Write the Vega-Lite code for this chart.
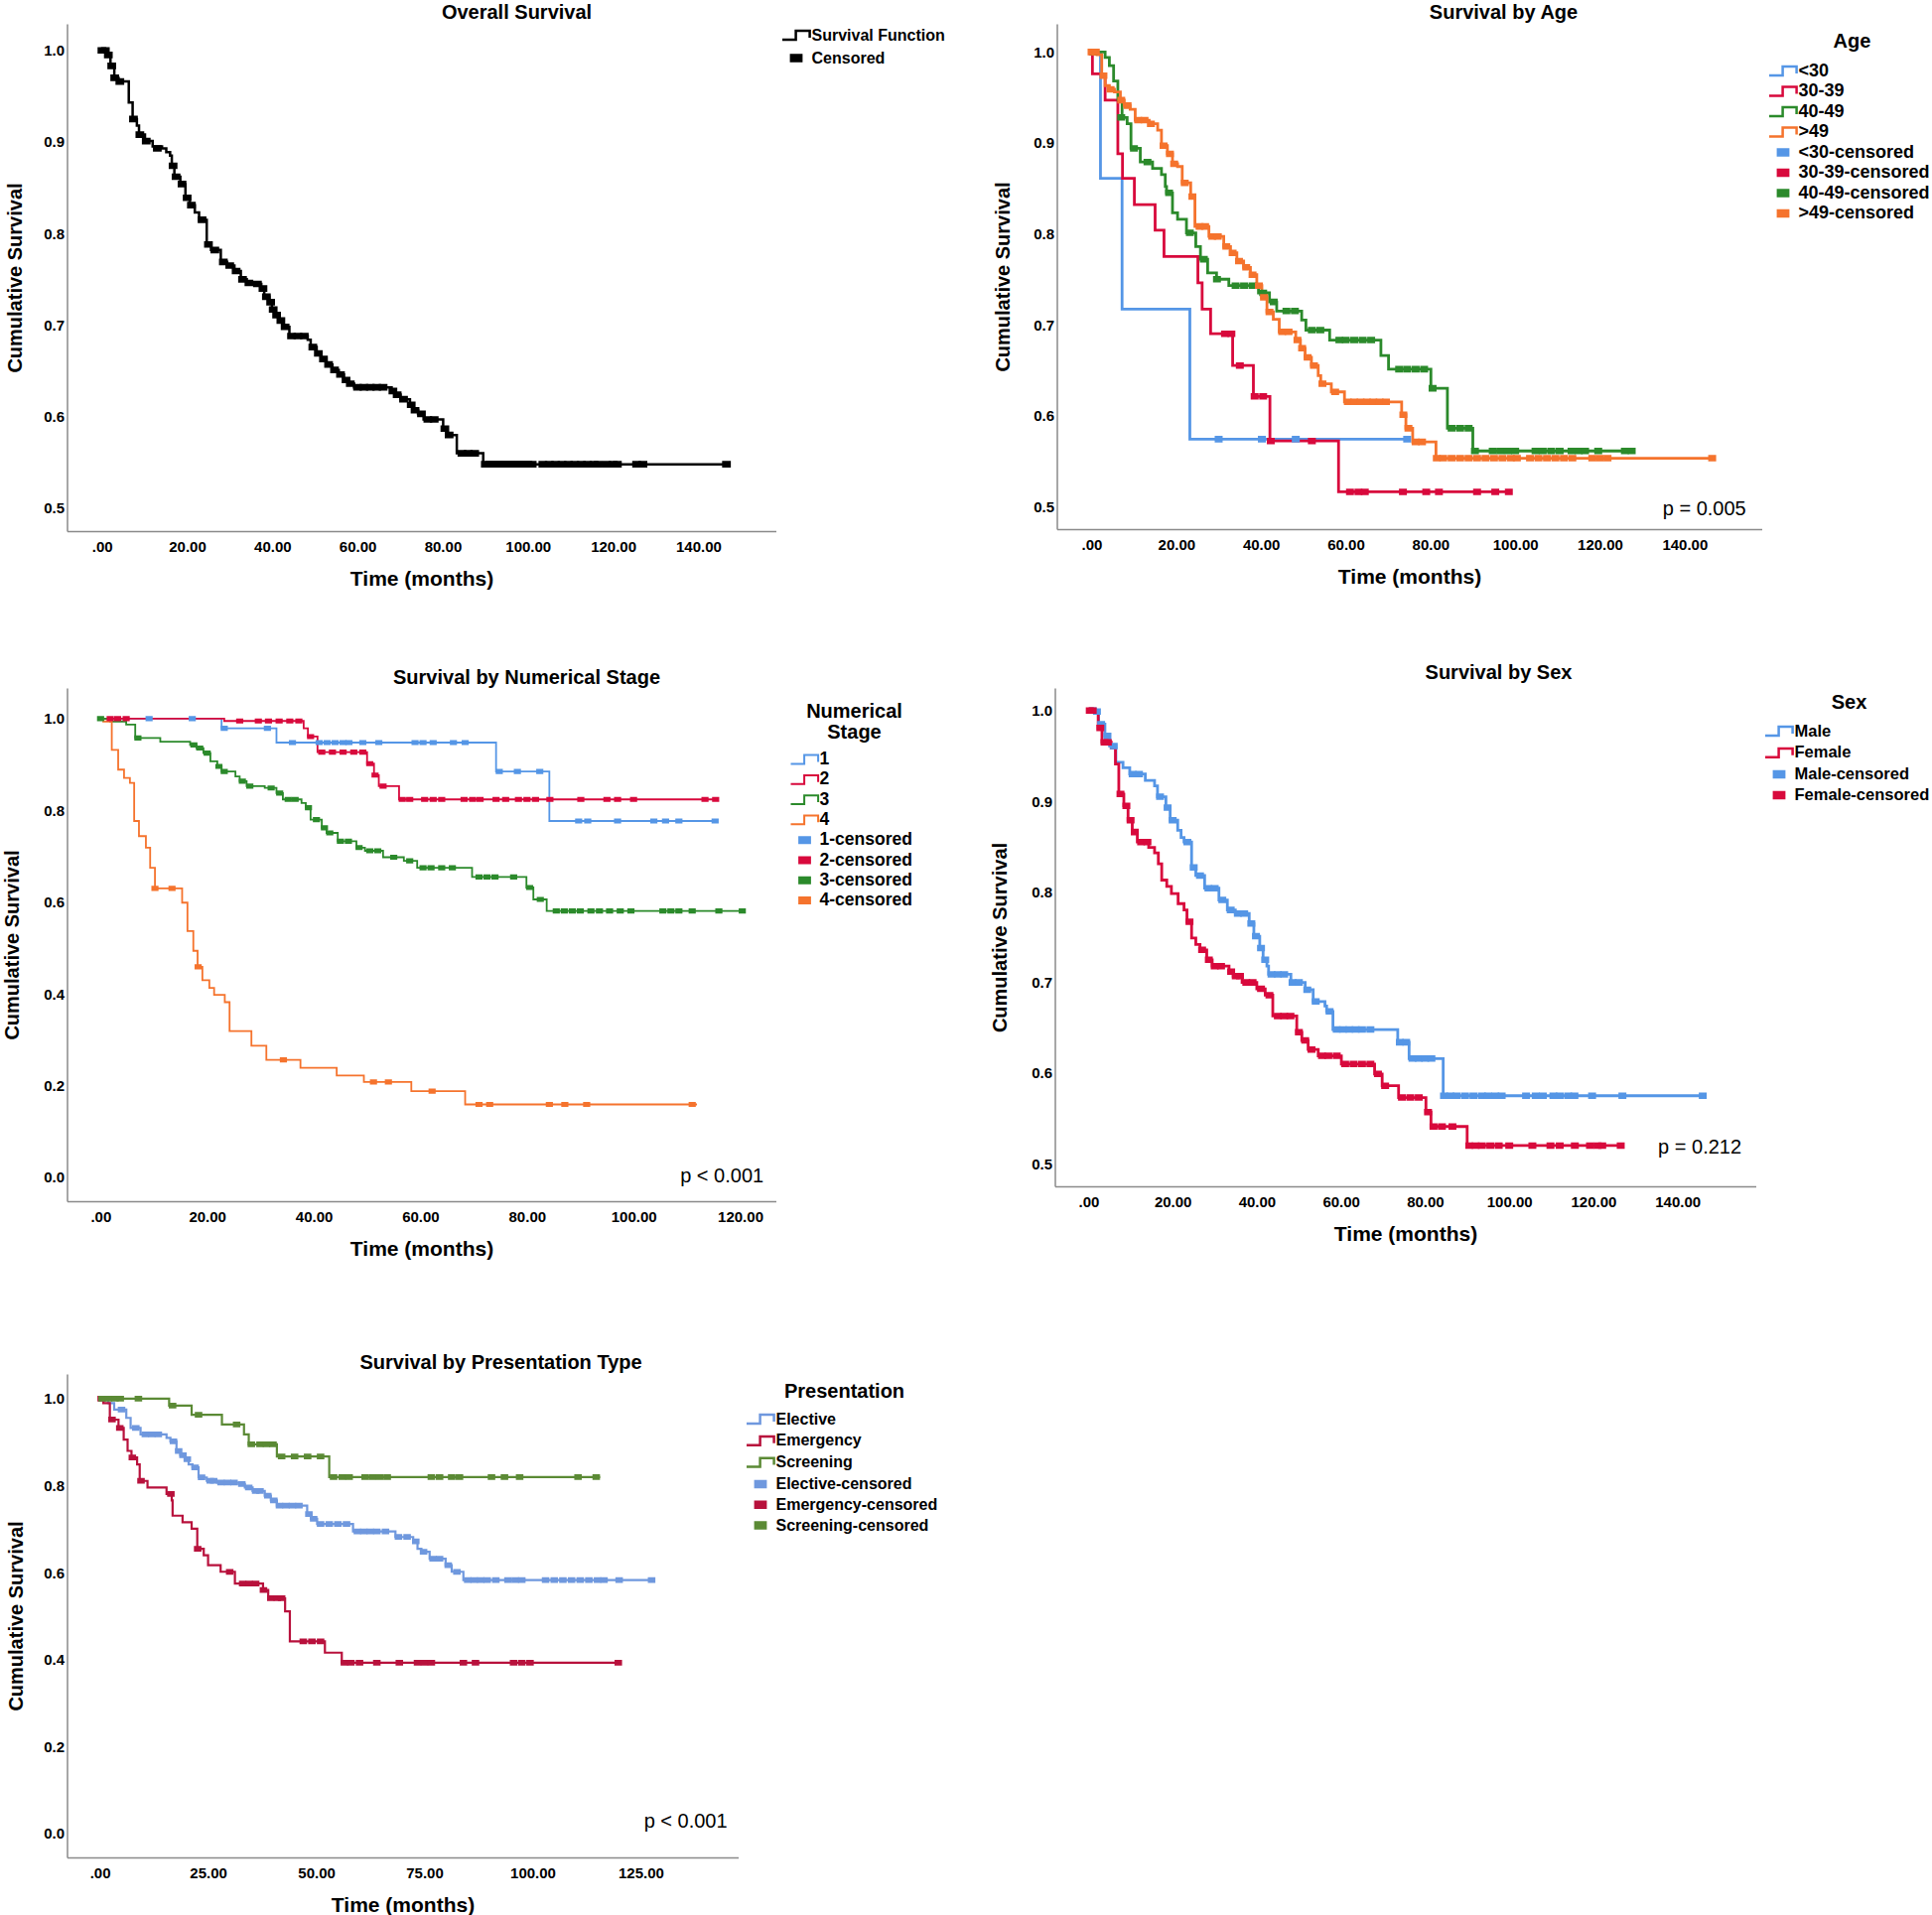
{
  "$schema": "https://vega.github.io/schema/vega-lite/v6.json",
  "padding": {"left": 1.5, "top": 3, "right": 0, "bottom": 0},
  "datasets": {
    "p1c": [
      {"g":"Survival Function","t":0,"s":1.0},{"g":"Survival Function","t":1.0,"s":0.995},{"g":"Survival Function","t":2.0,"s":0.983},{"g":"Survival Function","t":2.9,"s":0.970},{"g":"Survival Function","t":3.9,"s":0.966},{"g":"Survival Function","t":6.3,"s":0.943},{"g":"Survival Function","t":7.2,"s":0.925},{"g":"Survival Function","t":8.2,"s":0.918},{"g":"Survival Function","t":8.7,"s":0.908},{"g":"Survival Function","t":10.1,"s":0.901},{"g":"Survival Function","t":11.9,"s":0.895},{"g":"Survival Function","t":14.1,"s":0.893},{"g":"Survival Function","t":15.1,"s":0.889},{"g":"Survival Function","t":16.0,"s":0.885},{"g":"Survival Function","t":16.4,"s":0.874},{"g":"Survival Function","t":17.0,"s":0.862},{"g":"Survival Function","t":18.4,"s":0.854},{"g":"Survival Function","t":19.6,"s":0.839},{"g":"Survival Function","t":20.6,"s":0.831},{"g":"Survival Function","t":21.8,"s":0.823},{"g":"Survival Function","t":22.8,"s":0.815},{"g":"Survival Function","t":24.6,"s":0.788},{"g":"Survival Function","t":25.6,"s":0.782},{"g":"Survival Function","t":27.9,"s":0.769},{"g":"Survival Function","t":29.4,"s":0.765},{"g":"Survival Function","t":31.1,"s":0.759},{"g":"Survival Function","t":32.6,"s":0.750},{"g":"Survival Function","t":34.0,"s":0.746},{"g":"Survival Function","t":35.9,"s":0.745},{"g":"Survival Function","t":37.4,"s":0.740},{"g":"Survival Function","t":38.1,"s":0.731},{"g":"Survival Function","t":39.3,"s":0.725},{"g":"Survival Function","t":39.9,"s":0.717},{"g":"Survival Function","t":40.7,"s":0.711},{"g":"Survival Function","t":41.7,"s":0.705},{"g":"Survival Function","t":42.5,"s":0.698},{"g":"Survival Function","t":44.0,"s":0.688},{"g":"Survival Function","t":48.3,"s":0.684},{"g":"Survival Function","t":49.0,"s":0.676},{"g":"Survival Function","t":50.4,"s":0.669},{"g":"Survival Function","t":51.5,"s":0.663},{"g":"Survival Function","t":52.7,"s":0.657},{"g":"Survival Function","t":54.1,"s":0.651},{"g":"Survival Function","t":55.6,"s":0.646},{"g":"Survival Function","t":56.8,"s":0.640},{"g":"Survival Function","t":57.8,"s":0.636},{"g":"Survival Function","t":59.2,"s":0.632},{"g":"Survival Function","t":68.0,"s":0.628},{"g":"Survival Function","t":68.7,"s":0.624},{"g":"Survival Function","t":70.1,"s":0.619},{"g":"Survival Function","t":72.3,"s":0.613},{"g":"Survival Function","t":73.0,"s":0.607},{"g":"Survival Function","t":74.2,"s":0.603},{"g":"Survival Function","t":75.5,"s":0.597},{"g":"Survival Function","t":80.1,"s":0.587},{"g":"Survival Function","t":81.0,"s":0.580},{"g":"Survival Function","t":83.3,"s":0.560},{"g":"Survival Function","t":89.5,"s":0.548},{"g":"Survival Function","t":146.6,"s":0.548}
    ],
    "p1k": [
      {"g":"Censored","t":0,"s":1.0},{"g":"Censored","t":0.8,"s":1.0},{"g":"Censored","t":1.5,"s":0.995},{"g":"Censored","t":2.3,"s":0.983},{"g":"Censored","t":3.0,"s":0.970},{"g":"Censored","t":4.2,"s":0.966},{"g":"Censored","t":7.4,"s":0.925},{"g":"Censored","t":8.9,"s":0.908},{"g":"Censored","t":10.4,"s":0.901},{"g":"Censored","t":13.0,"s":0.893},{"g":"Censored","t":16.7,"s":0.874},{"g":"Censored","t":17.4,"s":0.862},{"g":"Censored","t":18.8,"s":0.854},{"g":"Censored","t":20.0,"s":0.839},{"g":"Censored","t":21.0,"s":0.831},{"g":"Censored","t":23.5,"s":0.815},{"g":"Censored","t":25.0,"s":0.788},{"g":"Censored","t":26.5,"s":0.782},{"g":"Censored","t":28.5,"s":0.769},{"g":"Censored","t":30.0,"s":0.765},{"g":"Censored","t":31.5,"s":0.759},{"g":"Censored","t":33.0,"s":0.750},{"g":"Censored","t":34.5,"s":0.746},{"g":"Censored","t":36.5,"s":0.745},{"g":"Censored","t":37.8,"s":0.740},{"g":"Censored","t":38.6,"s":0.731},{"g":"Censored","t":39.6,"s":0.725},{"g":"Censored","t":40.2,"s":0.717},{"g":"Censored","t":41.0,"s":0.711},{"g":"Censored","t":42.0,"s":0.705},{"g":"Censored","t":43.0,"s":0.698},{"g":"Censored","t":44.5,"s":0.688},{"g":"Censored","t":46.0,"s":0.688},{"g":"Censored","t":47.5,"s":0.688},{"g":"Censored","t":49.5,"s":0.676},{"g":"Censored","t":50.8,"s":0.669},{"g":"Censored","t":52.0,"s":0.663},{"g":"Censored","t":53.2,"s":0.657},{"g":"Censored","t":54.6,"s":0.651},{"g":"Censored","t":56.0,"s":0.646},{"g":"Censored","t":57.3,"s":0.640},{"g":"Censored","t":58.3,"s":0.636},{"g":"Censored","t":60.0,"s":0.632},{"g":"Censored","t":61.5,"s":0.632},{"g":"Censored","t":63.0,"s":0.632},{"g":"Censored","t":64.5,"s":0.632},{"g":"Censored","t":66.0,"s":0.632},{"g":"Censored","t":68.3,"s":0.628},{"g":"Censored","t":69.3,"s":0.624},{"g":"Censored","t":70.8,"s":0.619},{"g":"Censored","t":72.6,"s":0.613},{"g":"Censored","t":73.5,"s":0.607},{"g":"Censored","t":75.0,"s":0.603},{"g":"Censored","t":76.5,"s":0.597},{"g":"Censored","t":78.0,"s":0.597},{"g":"Censored","t":80.5,"s":0.587},{"g":"Censored","t":81.5,"s":0.580},{"g":"Censored","t":84.5,"s":0.560},{"g":"Censored","t":86.0,"s":0.560},{"g":"Censored","t":87.5,"s":0.560},{"g":"Censored","t":90,"s":0.548},{"g":"Censored","t":91,"s":0.548},{"g":"Censored","t":92,"s":0.548},{"g":"Censored","t":93,"s":0.548},{"g":"Censored","t":94,"s":0.548},{"g":"Censored","t":95,"s":0.548},{"g":"Censored","t":96,"s":0.548},{"g":"Censored","t":97,"s":0.548},{"g":"Censored","t":98,"s":0.548},{"g":"Censored","t":99,"s":0.548},{"g":"Censored","t":100,"s":0.548},{"g":"Censored","t":101,"s":0.548},{"g":"Censored","t":103.5,"s":0.548},{"g":"Censored","t":105,"s":0.548},{"g":"Censored","t":106.5,"s":0.548},{"g":"Censored","t":108,"s":0.548},{"g":"Censored","t":109.5,"s":0.548},{"g":"Censored","t":111,"s":0.548},{"g":"Censored","t":112.5,"s":0.548},{"g":"Censored","t":114,"s":0.548},{"g":"Censored","t":115.5,"s":0.548},{"g":"Censored","t":116.5,"s":0.548},{"g":"Censored","t":118.5,"s":0.548},{"g":"Censored","t":120,"s":0.548},{"g":"Censored","t":121,"s":0.548},{"g":"Censored","t":125.5,"s":0.548},{"g":"Censored","t":127,"s":0.548},{"g":"Censored","t":146.6,"s":0.548}
    ],
    "p2c": [
      {"g":"<30","t":0,"s":1.0},{"g":"<30","t":2.1,"s":0.861},{"g":"<30","t":7.2,"s":0.717},{"g":"<30","t":23.2,"s":0.574},{"g":"<30","t":75,"s":0.574},
      {"g":"30-39","t":0,"s":1.0},{"g":"30-39","t":0.2,"s":0.976},{"g":"30-39","t":3.2,"s":0.947},{"g":"30-39","t":6.2,"s":0.888},{"g":"30-39","t":7.3,"s":0.861},{"g":"30-39","t":10.1,"s":0.832},{"g":"30-39","t":15.0,"s":0.804},{"g":"30-39","t":17.1,"s":0.775},{"g":"30-39","t":25.1,"s":0.746},{"g":"30-39","t":26.1,"s":0.717},{"g":"30-39","t":28.1,"s":0.690},{"g":"30-39","t":33.3,"s":0.655},{"g":"30-39","t":38.2,"s":0.621},{"g":"30-39","t":42.1,"s":0.572},{"g":"30-39","t":58.3,"s":0.516},{"g":"30-39","t":98.9,"s":0.516},
      {"g":"40-49","t":0,"s":1.0},{"g":"40-49","t":3.2,"s":0.994},{"g":"40-49","t":4.2,"s":0.985},{"g":"40-49","t":5.2,"s":0.968},{"g":"40-49","t":6.2,"s":0.948},{"g":"40-49","t":7.2,"s":0.928},{"g":"40-49","t":8.4,"s":0.921},{"g":"40-49","t":9.3,"s":0.894},{"g":"40-49","t":11.5,"s":0.879},{"g":"40-49","t":14.4,"s":0.872},{"g":"40-49","t":16.5,"s":0.865},{"g":"40-49","t":17.4,"s":0.852},{"g":"40-49","t":17.7,"s":0.845},{"g":"40-49","t":19.1,"s":0.823},{"g":"40-49","t":20.3,"s":0.816},{"g":"40-49","t":22.4,"s":0.801},{"g":"40-49","t":24.6,"s":0.786},{"g":"40-49","t":25.7,"s":0.772},{"g":"40-49","t":27.4,"s":0.757},{"g":"40-49","t":29.5,"s":0.750},{"g":"40-49","t":32.4,"s":0.743},{"g":"40-49","t":39.4,"s":0.735},{"g":"40-49","t":42.0,"s":0.725},{"g":"40-49","t":43.7,"s":0.715},{"g":"40-49","t":49.6,"s":0.705},{"g":"40-49","t":50.6,"s":0.694},{"g":"40-49","t":56.2,"s":0.683},{"g":"40-49","t":68.3,"s":0.666},{"g":"40-49","t":70.1,"s":0.651},{"g":"40-49","t":80.1,"s":0.630},{"g":"40-49","t":84.0,"s":0.586},{"g":"40-49","t":90.0,"s":0.561},{"g":"40-49","t":128,"s":0.561},
      {"g":">49","t":0,"s":1.0},{"g":">49","t":1.3,"s":0.997},{"g":">49","t":2.4,"s":0.974},{"g":">49","t":3.2,"s":0.963},{"g":">49","t":4.2,"s":0.959},{"g":">49","t":5.4,"s":0.956},{"g":">49","t":6.8,"s":0.947},{"g":">49","t":7.7,"s":0.941},{"g":">49","t":9.1,"s":0.937},{"g":">49","t":10.3,"s":0.925},{"g":">49","t":13.6,"s":0.921},{"g":">49","t":15.6,"s":0.914},{"g":">49","t":16.5,"s":0.897},{"g":">49","t":17.9,"s":0.888},{"g":">49","t":19.1,"s":0.877},{"g":">49","t":20.3,"s":0.874},{"g":">49","t":21.4,"s":0.856},{"g":">49","t":23.4,"s":0.841},{"g":">49","t":24.4,"s":0.808},{"g":">49","t":27.7,"s":0.797},{"g":">49","t":31.2,"s":0.786},{"g":">49","t":32.8,"s":0.779},{"g":">49","t":34.3,"s":0.770},{"g":">49","t":35.9,"s":0.763},{"g":">49","t":37.5,"s":0.755},{"g":">49","t":39.0,"s":0.743},{"g":">49","t":40.2,"s":0.730},{"g":">49","t":41.4,"s":0.714},{"g":">49","t":42.9,"s":0.706},{"g":">49","t":44.3,"s":0.692},{"g":">49","t":48.2,"s":0.683},{"g":">49","t":49.3,"s":0.674},{"g":">49","t":50.4,"s":0.664},{"g":">49","t":51.9,"s":0.655},{"g":">49","t":53.5,"s":0.644},{"g":">49","t":54.1,"s":0.635},{"g":">49","t":56.6,"s":0.626},{"g":">49","t":59.7,"s":0.615},{"g":">49","t":73.2,"s":0.601},{"g":">49","t":74.2,"s":0.586},{"g":">49","t":75.8,"s":0.571},{"g":">49","t":81.3,"s":0.553},{"g":">49","t":147,"s":0.553}
    ],
    "p2k": [
      {"g":"<30-censored","t":30,"s":0.574},{"g":"<30-censored","t":40.2,"s":0.574},{"g":"<30-censored","t":48.2,"s":0.574},{"g":"<30-censored","t":74.5,"s":0.574},
      {"g":"30-39-censored","t":0.3,"s":1.0},{"g":"30-39-censored","t":31.5,"s":0.690},{"g":"30-39-censored","t":33,"s":0.690},{"g":"30-39-censored","t":35,"s":0.655},{"g":"30-39-censored","t":38.5,"s":0.621},{"g":"30-39-censored","t":40.5,"s":0.621},{"g":"30-39-censored","t":42.3,"s":0.572},{"g":"30-39-censored","t":52,"s":0.572},{"g":"30-39-censored","t":61,"s":0.516},{"g":"30-39-censored","t":63,"s":0.516},{"g":"30-39-censored","t":64.5,"s":0.516},{"g":"30-39-censored","t":73.5,"s":0.516},{"g":"30-39-censored","t":79,"s":0.516},{"g":"30-39-censored","t":82,"s":0.516},{"g":"30-39-censored","t":91,"s":0.516},{"g":"30-39-censored","t":95.3,"s":0.516},{"g":"30-39-censored","t":98.5,"s":0.516},
      {"g":"40-49-censored","t":0.5,"s":1.0},{"g":"40-49-censored","t":7,"s":0.928},{"g":"40-49-censored","t":10,"s":0.894},{"g":"40-49-censored","t":13.2,"s":0.879},{"g":"40-49-censored","t":18.3,"s":0.845},{"g":"40-49-censored","t":23.2,"s":0.801},{"g":"40-49-censored","t":26.5,"s":0.772},{"g":"40-49-censored","t":29.6,"s":0.750},{"g":"40-49-censored","t":34,"s":0.743},{"g":"40-49-censored","t":36,"s":0.743},{"g":"40-49-censored","t":38,"s":0.743},{"g":"40-49-censored","t":40.5,"s":0.735},{"g":"40-49-censored","t":43,"s":0.725},{"g":"40-49-censored","t":46,"s":0.715},{"g":"40-49-censored","t":48,"s":0.715},{"g":"40-49-censored","t":52,"s":0.694},{"g":"40-49-censored","t":54,"s":0.694},{"g":"40-49-censored","t":58.5,"s":0.683},{"g":"40-49-censored","t":60,"s":0.683},{"g":"40-49-censored","t":62,"s":0.683},{"g":"40-49-censored","t":64,"s":0.683},{"g":"40-49-censored","t":66,"s":0.683},{"g":"40-49-censored","t":72.6,"s":0.651},{"g":"40-49-censored","t":74.5,"s":0.651},{"g":"40-49-censored","t":76.5,"s":0.651},{"g":"40-49-censored","t":78.5,"s":0.651},{"g":"40-49-censored","t":80.5,"s":0.630},{"g":"40-49-censored","t":85,"s":0.586},{"g":"40-49-censored","t":87,"s":0.586},{"g":"40-49-censored","t":89,"s":0.586},{"g":"40-49-censored","t":90.5,"s":0.561},{"g":"40-49-censored","t":94.7,"s":0.561},{"g":"40-49-censored","t":96.5,"s":0.561},{"g":"40-49-censored","t":98.3,"s":0.561},{"g":"40-49-censored","t":100,"s":0.561},{"g":"40-49-censored","t":104.8,"s":0.561},{"g":"40-49-censored","t":106.5,"s":0.561},{"g":"40-49-censored","t":108.5,"s":0.561},{"g":"40-49-censored","t":110.5,"s":0.561},{"g":"40-49-censored","t":113.3,"s":0.561},{"g":"40-49-censored","t":115,"s":0.561},{"g":"40-49-censored","t":116.5,"s":0.561},{"g":"40-49-censored","t":119.6,"s":0.561},{"g":"40-49-censored","t":125.9,"s":0.561},{"g":"40-49-censored","t":127.5,"s":0.561},
      {"g":">49-censored","t":0,"s":1.0},{"g":">49-censored","t":1,"s":1.0},{"g":">49-censored","t":2.8,"s":0.974},{"g":">49-censored","t":4.5,"s":0.959},{"g":">49-censored","t":7,"s":0.947},{"g":">49-censored","t":8.5,"s":0.941},{"g":">49-censored","t":11,"s":0.925},{"g":">49-censored","t":12.5,"s":0.925},{"g":">49-censored","t":14,"s":0.921},{"g":">49-censored","t":17,"s":0.897},{"g":">49-censored","t":18.5,"s":0.888},{"g":">49-censored","t":19.5,"s":0.877},{"g":">49-censored","t":22,"s":0.856},{"g":">49-censored","t":23.8,"s":0.841},{"g":">49-censored","t":25.5,"s":0.808},{"g":">49-censored","t":26.8,"s":0.808},{"g":">49-censored","t":28.5,"s":0.797},{"g":">49-censored","t":29.8,"s":0.797},{"g":">49-censored","t":31.8,"s":0.786},{"g":">49-censored","t":33.3,"s":0.779},{"g":">49-censored","t":34.8,"s":0.770},{"g":">49-censored","t":36.5,"s":0.763},{"g":">49-censored","t":38,"s":0.755},{"g":">49-censored","t":39.5,"s":0.743},{"g":">49-censored","t":40.7,"s":0.730},{"g":">49-censored","t":42,"s":0.714},{"g":">49-censored","t":45,"s":0.692},{"g":">49-censored","t":46.5,"s":0.692},{"g":">49-censored","t":48.6,"s":0.683},{"g":">49-censored","t":49.7,"s":0.674},{"g":">49-censored","t":51,"s":0.664},{"g":">49-censored","t":52.5,"s":0.655},{"g":">49-censored","t":54.5,"s":0.635},{"g":">49-censored","t":57.5,"s":0.626},{"g":">49-censored","t":60.5,"s":0.615},{"g":">49-censored","t":62,"s":0.615},{"g":">49-censored","t":63.5,"s":0.615},{"g":">49-censored","t":65,"s":0.615},{"g":">49-censored","t":66.5,"s":0.615},{"g":">49-censored","t":68,"s":0.615},{"g":">49-censored","t":69.5,"s":0.615},{"g":">49-censored","t":73.6,"s":0.601},{"g":">49-censored","t":74.8,"s":0.586},{"g":">49-censored","t":76.5,"s":0.571},{"g":">49-censored","t":78,"s":0.571},{"g":">49-censored","t":81.5,"s":0.553},{"g":">49-censored","t":83,"s":0.553},{"g":">49-censored","t":85,"s":0.553},{"g":">49-censored","t":87,"s":0.553},{"g":">49-censored","t":89,"s":0.553},{"g":">49-censored","t":91,"s":0.553},{"g":">49-censored","t":93,"s":0.553},{"g":">49-censored","t":95,"s":0.553},{"g":">49-censored","t":97,"s":0.553},{"g":">49-censored","t":99,"s":0.553},{"g":">49-censored","t":100.4,"s":0.553},{"g":">49-censored","t":103.5,"s":0.553},{"g":">49-censored","t":105.5,"s":0.553},{"g":">49-censored","t":107.5,"s":0.553},{"g":">49-censored","t":109.5,"s":0.553},{"g":">49-censored","t":111.5,"s":0.553},{"g":">49-censored","t":113.5,"s":0.553},{"g":">49-censored","t":118.2,"s":0.553},{"g":">49-censored","t":120,"s":0.553},{"g":">49-censored","t":121.8,"s":0.553},{"g":">49-censored","t":146.5,"s":0.553}
    ],
    "p2t": [{"label":"p = 0.005","t":154.5,"s":0.497}],
    "p3c": [
      {"g":"1","t":0,"s":1.0},{"g":"1","t":22.7,"s":0.979},{"g":"1","t":33.0,"s":0.948},{"g":"1","t":74.2,"s":0.885},{"g":"1","t":84.2,"s":0.777},{"g":"1","t":115.7,"s":0.777},
      {"g":"2","t":0,"s":1.0},{"g":"2","t":23.2,"s":0.995},{"g":"2","t":38.1,"s":0.979},{"g":"2","t":38.9,"s":0.961},{"g":"2","t":40.7,"s":0.927},{"g":"2","t":50.0,"s":0.902},{"g":"2","t":51.3,"s":0.877},{"g":"2","t":52.2,"s":0.853},{"g":"2","t":56.0,"s":0.824},{"g":"2","t":115.7,"s":0.824},
      {"g":"3","t":0,"s":1.0},{"g":"3","t":1.8,"s":0.994},{"g":"3","t":4.8,"s":0.987},{"g":"3","t":6.5,"s":0.958},{"g":"3","t":11.2,"s":0.950},{"g":"3","t":16.8,"s":0.943},{"g":"3","t":18.0,"s":0.936},{"g":"3","t":19.3,"s":0.925},{"g":"3","t":20.6,"s":0.907},{"g":"3","t":21.9,"s":0.896},{"g":"3","t":22.7,"s":0.885},{"g":"3","t":25.3,"s":0.874},{"g":"3","t":26.1,"s":0.864},{"g":"3","t":27.4,"s":0.853},{"g":"3","t":30.8,"s":0.849},{"g":"3","t":33.0,"s":0.838},{"g":"3","t":34.2,"s":0.824},{"g":"3","t":37.7,"s":0.816},{"g":"3","t":38.5,"s":0.806},{"g":"3","t":39.4,"s":0.780},{"g":"3","t":41.5,"s":0.762},{"g":"3","t":42.4,"s":0.751},{"g":"3","t":44.5,"s":0.733},{"g":"3","t":48.0,"s":0.719},{"g":"3","t":49.6,"s":0.712},{"g":"3","t":53.0,"s":0.698},{"g":"3","t":56.9,"s":0.690},{"g":"3","t":59.4,"s":0.675},{"g":"3","t":69.7,"s":0.655},{"g":"3","t":79.9,"s":0.632},{"g":"3","t":81.2,"s":0.606},{"g":"3","t":83.7,"s":0.581},{"g":"3","t":120.9,"s":0.581},
      {"g":"4","t":0,"s":1.0},{"g":"4","t":0.5,"s":0.994},{"g":"4","t":2.1,"s":0.932},{"g":"4","t":3.3,"s":0.889},{"g":"4","t":4.4,"s":0.871},{"g":"4","t":5.5,"s":0.860},{"g":"4","t":6.3,"s":0.777},{"g":"4","t":7.2,"s":0.744},{"g":"4","t":8.5,"s":0.719},{"g":"4","t":9.3,"s":0.675},{"g":"4","t":10.2,"s":0.630},{"g":"4","t":15.3,"s":0.599},{"g":"4","t":16.3,"s":0.537},{"g":"4","t":17.4,"s":0.494},{"g":"4","t":18.2,"s":0.459},{"g":"4","t":19.1,"s":0.430},{"g":"4","t":20.4,"s":0.413},{"g":"4","t":21.3,"s":0.398},{"g":"4","t":23.3,"s":0.382},{"g":"4","t":24.2,"s":0.319},{"g":"4","t":28.3,"s":0.287},{"g":"4","t":31.1,"s":0.256},{"g":"4","t":37.5,"s":0.239},{"g":"4","t":44.3,"s":0.222},{"g":"4","t":49.4,"s":0.208},{"g":"4","t":58.3,"s":0.188},{"g":"4","t":68.4,"s":0.159},{"g":"4","t":111.9,"s":0.159}
    ],
    "p3k": [
      {"g":"1-censored","t":9.1,"s":1.0},{"g":"1-censored","t":17.2,"s":1.0},{"g":"1-censored","t":23.2,"s":0.979},{"g":"1-censored","t":31.3,"s":0.979},{"g":"1-censored","t":36,"s":0.948},{"g":"1-censored","t":41,"s":0.948},{"g":"1-censored","t":42.5,"s":0.948},{"g":"1-censored","t":44,"s":0.948},{"g":"1-censored","t":45.5,"s":0.948},{"g":"1-censored","t":46.6,"s":0.948},{"g":"1-censored","t":49.2,"s":0.948},{"g":"1-censored","t":52.2,"s":0.948},{"g":"1-censored","t":59,"s":0.948},{"g":"1-censored","t":60.5,"s":0.948},{"g":"1-censored","t":62.4,"s":0.948},{"g":"1-censored","t":66.2,"s":0.948},{"g":"1-censored","t":68.4,"s":0.948},{"g":"1-censored","t":74.8,"s":0.885},{"g":"1-censored","t":78.2,"s":0.885},{"g":"1-censored","t":82.4,"s":0.885},{"g":"1-censored","t":89.7,"s":0.777},{"g":"1-censored","t":91.4,"s":0.777},{"g":"1-censored","t":97,"s":0.777},{"g":"1-censored","t":103.8,"s":0.777},{"g":"1-censored","t":106,"s":0.777},{"g":"1-censored","t":108.5,"s":0.777},{"g":"1-censored","t":115.3,"s":0.777},
      {"g":"2-censored","t":1.8,"s":1.0},{"g":"2-censored","t":3.2,"s":1.0},{"g":"2-censored","t":4.8,"s":1.0},{"g":"2-censored","t":26.1,"s":0.995},{"g":"2-censored","t":29.6,"s":0.995},{"g":"2-censored","t":31.5,"s":0.995},{"g":"2-censored","t":33.5,"s":0.995},{"g":"2-censored","t":35.5,"s":0.995},{"g":"2-censored","t":37.2,"s":0.995},{"g":"2-censored","t":39.4,"s":0.961},{"g":"2-censored","t":41.5,"s":0.927},{"g":"2-censored","t":43.5,"s":0.927},{"g":"2-censored","t":45.5,"s":0.927},{"g":"2-censored","t":47.5,"s":0.927},{"g":"2-censored","t":49.2,"s":0.927},{"g":"2-censored","t":50.5,"s":0.902},{"g":"2-censored","t":51.5,"s":0.877},{"g":"2-censored","t":53,"s":0.853},{"g":"2-censored","t":56.6,"s":0.824},{"g":"2-censored","t":58,"s":0.824},{"g":"2-censored","t":60.8,"s":0.824},{"g":"2-censored","t":62.4,"s":0.824},{"g":"2-censored","t":64,"s":0.824},{"g":"2-censored","t":68.2,"s":0.824},{"g":"2-censored","t":69.8,"s":0.824},{"g":"2-censored","t":71.2,"s":0.824},{"g":"2-censored","t":74.2,"s":0.824},{"g":"2-censored","t":76,"s":0.824},{"g":"2-censored","t":78.4,"s":0.824},{"g":"2-censored","t":80,"s":0.824},{"g":"2-censored","t":81.6,"s":0.824},{"g":"2-censored","t":84.3,"s":0.824},{"g":"2-censored","t":90.1,"s":0.824},{"g":"2-censored","t":95,"s":0.824},{"g":"2-censored","t":97,"s":0.824},{"g":"2-censored","t":100,"s":0.824},{"g":"2-censored","t":113.4,"s":0.824},{"g":"2-censored","t":115.4,"s":0.824},
      {"g":"3-censored","t":0,"s":1.0},{"g":"3-censored","t":7,"s":0.958},{"g":"3-censored","t":17.5,"s":0.943},{"g":"3-censored","t":18.6,"s":0.936},{"g":"3-censored","t":20,"s":0.925},{"g":"3-censored","t":22.2,"s":0.896},{"g":"3-censored","t":23.2,"s":0.885},{"g":"3-censored","t":26.6,"s":0.864},{"g":"3-censored","t":28,"s":0.853},{"g":"3-censored","t":32,"s":0.849},{"g":"3-censored","t":33.6,"s":0.838},{"g":"3-censored","t":35.2,"s":0.824},{"g":"3-censored","t":36.5,"s":0.824},{"g":"3-censored","t":39,"s":0.806},{"g":"3-censored","t":40.5,"s":0.780},{"g":"3-censored","t":42,"s":0.762},{"g":"3-censored","t":43,"s":0.751},{"g":"3-censored","t":45,"s":0.733},{"g":"3-censored","t":46.5,"s":0.733},{"g":"3-censored","t":48.5,"s":0.719},{"g":"3-censored","t":50.5,"s":0.712},{"g":"3-censored","t":52,"s":0.712},{"g":"3-censored","t":55,"s":0.698},{"g":"3-censored","t":58,"s":0.690},{"g":"3-censored","t":60.5,"s":0.675},{"g":"3-censored","t":62,"s":0.675},{"g":"3-censored","t":64,"s":0.675},{"g":"3-censored","t":66,"s":0.675},{"g":"3-censored","t":71,"s":0.655},{"g":"3-censored","t":72.5,"s":0.655},{"g":"3-censored","t":74,"s":0.655},{"g":"3-censored","t":77.5,"s":0.655},{"g":"3-censored","t":80.5,"s":0.632},{"g":"3-censored","t":82.5,"s":0.606},{"g":"3-censored","t":85.5,"s":0.581},{"g":"3-censored","t":87,"s":0.581},{"g":"3-censored","t":88.5,"s":0.581},{"g":"3-censored","t":90,"s":0.581},{"g":"3-censored","t":92,"s":0.581},{"g":"3-censored","t":93.6,"s":0.581},{"g":"3-censored","t":95.5,"s":0.581},{"g":"3-censored","t":97.5,"s":0.581},{"g":"3-censored","t":99.5,"s":0.581},{"g":"3-censored","t":105.5,"s":0.581},{"g":"3-censored","t":107,"s":0.581},{"g":"3-censored","t":108.5,"s":0.581},{"g":"3-censored","t":111,"s":0.581},{"g":"3-censored","t":116,"s":0.581},{"g":"3-censored","t":120.4,"s":0.581},
      {"g":"4-censored","t":10.2,"s":0.630},{"g":"4-censored","t":13.4,"s":0.630},{"g":"4-censored","t":18.3,"s":0.459},{"g":"4-censored","t":34.3,"s":0.256},{"g":"4-censored","t":51.2,"s":0.208},{"g":"4-censored","t":54,"s":0.208},{"g":"4-censored","t":62.2,"s":0.188},{"g":"4-censored","t":71,"s":0.159},{"g":"4-censored","t":73,"s":0.159},{"g":"4-censored","t":84.2,"s":0.159},{"g":"4-censored","t":87.1,"s":0.159},{"g":"4-censored","t":91.2,"s":0.159},{"g":"4-censored","t":111,"s":0.159}
    ],
    "p3t": [{"label":"p < 0.001","t":124.4,"s":0.003}],
    "p4c": [
      {"g":"Male","t":0,"s":1.0},{"g":"Male","t":1.5,"s":0.999},{"g":"Male","t":2.4,"s":0.985},{"g":"Male","t":3.9,"s":0.972},{"g":"Male","t":5.0,"s":0.961},{"g":"Male","t":6.5,"s":0.943},{"g":"Male","t":8.2,"s":0.937},{"g":"Male","t":9.8,"s":0.930},{"g":"Male","t":13.5,"s":0.923},{"g":"Male","t":15.7,"s":0.917},{"g":"Male","t":16.4,"s":0.905},{"g":"Male","t":18.4,"s":0.893},{"g":"Male","t":19.4,"s":0.879},{"g":"Male","t":21.2,"s":0.868},{"g":"Male","t":22.0,"s":0.860},{"g":"Male","t":22.7,"s":0.855},{"g":"Male","t":24.5,"s":0.827},{"g":"Male","t":25.5,"s":0.818},{"g":"Male","t":27.6,"s":0.804},{"g":"Male","t":31.0,"s":0.791},{"g":"Male","t":33.0,"s":0.780},{"g":"Male","t":34.9,"s":0.776},{"g":"Male","t":38.2,"s":0.765},{"g":"Male","t":39.3,"s":0.751},{"g":"Male","t":40.7,"s":0.738},{"g":"Male","t":41.5,"s":0.725},{"g":"Male","t":42.4,"s":0.718},{"g":"Male","t":42.8,"s":0.709},{"g":"Male","t":48.1,"s":0.700},{"g":"Male","t":51.5,"s":0.692},{"g":"Male","t":53.4,"s":0.679},{"g":"Male","t":56.2,"s":0.674},{"g":"Male","t":56.6,"s":0.668},{"g":"Male","t":58.1,"s":0.648},{"g":"Male","t":73.5,"s":0.634},{"g":"Male","t":76.2,"s":0.616},{"g":"Male","t":84.3,"s":0.575},{"g":"Male","t":146.8,"s":0.575},
      {"g":"Female","t":0,"s":1.0},{"g":"Female","t":2.3,"s":0.981},{"g":"Female","t":3.2,"s":0.965},{"g":"Female","t":5.4,"s":0.959},{"g":"Female","t":6.4,"s":0.941},{"g":"Female","t":7.2,"s":0.908},{"g":"Female","t":8.4,"s":0.895},{"g":"Female","t":9.4,"s":0.879},{"g":"Female","t":10.4,"s":0.866},{"g":"Female","t":11.6,"s":0.855},{"g":"Female","t":14.3,"s":0.849},{"g":"Female","t":15.7,"s":0.843},{"g":"Female","t":16.6,"s":0.831},{"g":"Female","t":17.4,"s":0.813},{"g":"Female","t":18.6,"s":0.806},{"g":"Female","t":19.7,"s":0.798},{"g":"Female","t":21.3,"s":0.787},{"g":"Female","t":22.7,"s":0.780},{"g":"Female","t":23.4,"s":0.767},{"g":"Female","t":24.5,"s":0.749},{"g":"Female","t":25.5,"s":0.742},{"g":"Female","t":26.5,"s":0.736},{"g":"Female","t":28.1,"s":0.725},{"g":"Female","t":29.4,"s":0.718},{"g":"Female","t":33.4,"s":0.712},{"g":"Female","t":34.4,"s":0.707},{"g":"Female","t":36.5,"s":0.700},{"g":"Female","t":40.0,"s":0.693},{"g":"Female","t":42.0,"s":0.686},{"g":"Female","t":43.8,"s":0.663},{"g":"Female","t":49.5,"s":0.645},{"g":"Female","t":50.7,"s":0.636},{"g":"Female","t":52.2,"s":0.626},{"g":"Female","t":54.6,"s":0.619},{"g":"Female","t":60.1,"s":0.610},{"g":"Female","t":68.0,"s":0.599},{"g":"Female","t":69.8,"s":0.586},{"g":"Female","t":73.7,"s":0.573},{"g":"Female","t":80.2,"s":0.557},{"g":"Female","t":81.4,"s":0.541},{"g":"Female","t":90.0,"s":0.520},{"g":"Female","t":126.8,"s":0.520}
    ],
    "p4k": [
      {"g":"Male-censored","t":1,"s":1.0},{"g":"Male-censored","t":2,"s":0.999},{"g":"Male-censored","t":3,"s":0.985},{"g":"Male-censored","t":4.5,"s":0.972},{"g":"Male-censored","t":6,"s":0.961},{"g":"Male-censored","t":10.5,"s":0.930},{"g":"Male-censored","t":12,"s":0.930},{"g":"Male-censored","t":17,"s":0.905},{"g":"Male-censored","t":18.8,"s":0.893},{"g":"Male-censored","t":20,"s":0.879},{"g":"Male-censored","t":23.5,"s":0.855},{"g":"Male-censored","t":25,"s":0.827},{"g":"Male-censored","t":26.5,"s":0.818},{"g":"Male-censored","t":28.5,"s":0.804},{"g":"Male-censored","t":30,"s":0.804},{"g":"Male-censored","t":31.8,"s":0.791},{"g":"Male-censored","t":33.8,"s":0.780},{"g":"Male-censored","t":35.5,"s":0.776},{"g":"Male-censored","t":37,"s":0.776},{"g":"Male-censored","t":38.7,"s":0.765},{"g":"Male-censored","t":39.8,"s":0.751},{"g":"Male-censored","t":41,"s":0.738},{"g":"Male-censored","t":42,"s":0.725},{"g":"Male-censored","t":43.5,"s":0.709},{"g":"Male-censored","t":45,"s":0.709},{"g":"Male-censored","t":46.5,"s":0.709},{"g":"Male-censored","t":48.5,"s":0.700},{"g":"Male-censored","t":50,"s":0.700},{"g":"Male-censored","t":52,"s":0.692},{"g":"Male-censored","t":54,"s":0.679},{"g":"Male-censored","t":57.3,"s":0.668},{"g":"Male-censored","t":59,"s":0.648},{"g":"Male-censored","t":60.5,"s":0.648},{"g":"Male-censored","t":62,"s":0.648},{"g":"Male-censored","t":63.5,"s":0.648},{"g":"Male-censored","t":65,"s":0.648},{"g":"Male-censored","t":67,"s":0.648},{"g":"Male-censored","t":74,"s":0.634},{"g":"Male-censored","t":75.5,"s":0.634},{"g":"Male-censored","t":77,"s":0.616},{"g":"Male-censored","t":78.5,"s":0.616},{"g":"Male-censored","t":80,"s":0.616},{"g":"Male-censored","t":81.5,"s":0.616},{"g":"Male-censored","t":84.5,"s":0.575},{"g":"Male-censored","t":86,"s":0.575},{"g":"Male-censored","t":87.5,"s":0.575},{"g":"Male-censored","t":89.5,"s":0.575},{"g":"Male-censored","t":91.5,"s":0.575},{"g":"Male-censored","t":93.5,"s":0.575},{"g":"Male-censored","t":95,"s":0.575},{"g":"Male-censored","t":96.7,"s":0.575},{"g":"Male-censored","t":98.2,"s":0.575},{"g":"Male-censored","t":104,"s":0.575},{"g":"Male-censored","t":106.3,"s":0.575},{"g":"Male-censored","t":108,"s":0.575},{"g":"Male-censored","t":110.5,"s":0.575},{"g":"Male-censored","t":112,"s":0.575},{"g":"Male-censored","t":114,"s":0.575},{"g":"Male-censored","t":115.5,"s":0.575},{"g":"Male-censored","t":119.7,"s":0.575},{"g":"Male-censored","t":126.9,"s":0.575},{"g":"Male-censored","t":146,"s":0.575},
      {"g":"Female-censored","t":0.3,"s":1.0},{"g":"Female-censored","t":1,"s":1.0},{"g":"Female-censored","t":2.8,"s":0.981},{"g":"Female-censored","t":3.8,"s":0.965},{"g":"Female-censored","t":4.6,"s":0.965},{"g":"Female-censored","t":7.6,"s":0.908},{"g":"Female-censored","t":9,"s":0.895},{"g":"Female-censored","t":10,"s":0.879},{"g":"Female-censored","t":11,"s":0.866},{"g":"Female-censored","t":12.5,"s":0.855},{"g":"Female-censored","t":14,"s":0.855},{"g":"Female-censored","t":24,"s":0.767},{"g":"Female-censored","t":27,"s":0.736},{"g":"Female-censored","t":28.6,"s":0.725},{"g":"Female-censored","t":30,"s":0.718},{"g":"Female-censored","t":31.5,"s":0.718},{"g":"Female-censored","t":33.9,"s":0.712},{"g":"Female-censored","t":35,"s":0.707},{"g":"Female-censored","t":36,"s":0.707},{"g":"Female-censored","t":37.5,"s":0.700},{"g":"Female-censored","t":39,"s":0.700},{"g":"Female-censored","t":41,"s":0.693},{"g":"Female-censored","t":43,"s":0.686},{"g":"Female-censored","t":45,"s":0.663},{"g":"Female-censored","t":46.5,"s":0.663},{"g":"Female-censored","t":48,"s":0.663},{"g":"Female-censored","t":50,"s":0.645},{"g":"Female-censored","t":51.5,"s":0.636},{"g":"Female-censored","t":53,"s":0.626},{"g":"Female-censored","t":55.5,"s":0.619},{"g":"Female-censored","t":57,"s":0.619},{"g":"Female-censored","t":59,"s":0.619},{"g":"Female-censored","t":61,"s":0.610},{"g":"Female-censored","t":63,"s":0.610},{"g":"Female-censored","t":65,"s":0.610},{"g":"Female-censored","t":67,"s":0.610},{"g":"Female-censored","t":68.8,"s":0.599},{"g":"Female-censored","t":70.5,"s":0.586},{"g":"Female-censored","t":74.5,"s":0.573},{"g":"Female-censored","t":76.5,"s":0.573},{"g":"Female-censored","t":78.5,"s":0.573},{"g":"Female-censored","t":80.7,"s":0.557},{"g":"Female-censored","t":82,"s":0.541},{"g":"Female-censored","t":84,"s":0.541},{"g":"Female-censored","t":86.5,"s":0.541},{"g":"Female-censored","t":90.5,"s":0.520},{"g":"Female-censored","t":92,"s":0.520},{"g":"Female-censored","t":93.5,"s":0.520},{"g":"Female-censored","t":95.5,"s":0.520},{"g":"Female-censored","t":97.5,"s":0.520},{"g":"Female-censored","t":100,"s":0.520},{"g":"Female-censored","t":105.5,"s":0.520},{"g":"Female-censored","t":109.8,"s":0.520},{"g":"Female-censored","t":112,"s":0.520},{"g":"Female-censored","t":115.6,"s":0.520},{"g":"Female-censored","t":119.2,"s":0.520},{"g":"Female-censored","t":121,"s":0.520},{"g":"Female-censored","t":122.1,"s":0.520},{"g":"Female-censored","t":126.5,"s":0.520}
    ],
    "p4t": [{"label":"p = 0.212","t":155.2,"s":0.518}],
    "p5c": [
      {"g":"Elective","t":0,"s":1.0},{"g":"Elective","t":1.9,"s":0.990},{"g":"Elective","t":3.3,"s":0.975},{"g":"Elective","t":6.1,"s":0.956},{"g":"Elective","t":7.1,"s":0.933},{"g":"Elective","t":9.4,"s":0.918},{"g":"Elective","t":15.4,"s":0.910},{"g":"Elective","t":16.3,"s":0.902},{"g":"Elective","t":17.7,"s":0.880},{"g":"Elective","t":18.6,"s":0.870},{"g":"Elective","t":19.6,"s":0.861},{"g":"Elective","t":20.5,"s":0.849},{"g":"Elective","t":21.4,"s":0.842},{"g":"Elective","t":22.8,"s":0.819},{"g":"Elective","t":24.7,"s":0.811},{"g":"Elective","t":27.0,"s":0.807},{"g":"Elective","t":32.1,"s":0.804},{"g":"Elective","t":33.5,"s":0.796},{"g":"Elective","t":35.3,"s":0.788},{"g":"Elective","t":38.1,"s":0.777},{"g":"Elective","t":39.5,"s":0.766},{"g":"Elective","t":40.9,"s":0.754},{"g":"Elective","t":47.9,"s":0.735},{"g":"Elective","t":48.8,"s":0.724},{"g":"Elective","t":50.2,"s":0.712},{"g":"Elective","t":58.5,"s":0.695},{"g":"Elective","t":68.3,"s":0.682},{"g":"Elective","t":72.4,"s":0.672},{"g":"Elective","t":73.4,"s":0.655},{"g":"Elective","t":74.3,"s":0.648},{"g":"Elective","t":76.2,"s":0.632},{"g":"Elective","t":79.9,"s":0.617},{"g":"Elective","t":81.3,"s":0.602},{"g":"Elective","t":84.0,"s":0.583},{"g":"Elective","t":127.6,"s":0.583},
      {"g":"Emergency","t":0,"s":1.0},{"g":"Emergency","t":0.8,"s":0.990},{"g":"Emergency","t":2.3,"s":0.952},{"g":"Emergency","t":4.3,"s":0.933},{"g":"Emergency","t":5.5,"s":0.906},{"g":"Emergency","t":6.4,"s":0.880},{"g":"Emergency","t":7.3,"s":0.865},{"g":"Emergency","t":8.6,"s":0.849},{"g":"Emergency","t":9.2,"s":0.811},{"g":"Emergency","t":11.0,"s":0.796},{"g":"Emergency","t":15.4,"s":0.781},{"g":"Emergency","t":16.6,"s":0.766},{"g":"Emergency","t":16.8,"s":0.731},{"g":"Emergency","t":19.1,"s":0.716},{"g":"Emergency","t":21.2,"s":0.701},{"g":"Emergency","t":22.5,"s":0.655},{"g":"Emergency","t":24.0,"s":0.640},{"g":"Emergency","t":25.0,"s":0.617},{"g":"Emergency","t":27.9,"s":0.602},{"g":"Emergency","t":31.2,"s":0.575},{"g":"Emergency","t":37.7,"s":0.560},{"g":"Emergency","t":38.9,"s":0.541},{"g":"Emergency","t":42.8,"s":0.511},{"g":"Emergency","t":43.9,"s":0.442},{"g":"Emergency","t":52.0,"s":0.416},{"g":"Emergency","t":55.9,"s":0.393},{"g":"Emergency","t":120.2,"s":0.393},
      {"g":"Screening","t":0,"s":1.0},{"g":"Screening","t":16.0,"s":0.984},{"g":"Screening","t":21.2,"s":0.963},{"g":"Screening","t":28.2,"s":0.941},{"g":"Screening","t":33.3,"s":0.918},{"g":"Screening","t":34.4,"s":0.895},{"g":"Screening","t":40.9,"s":0.867},{"g":"Screening","t":53.0,"s":0.820},{"g":"Screening","t":115.6,"s":0.820}
    ],
    "p5k": [
      {"g":"Elective-censored","t":0.5,"s":1.0},{"g":"Elective-censored","t":5,"s":0.975},{"g":"Elective-censored","t":8.3,"s":0.933},{"g":"Elective-censored","t":10.5,"s":0.918},{"g":"Elective-censored","t":12,"s":0.918},{"g":"Elective-censored","t":13.5,"s":0.918},{"g":"Elective-censored","t":17,"s":0.902},{"g":"Elective-censored","t":18.2,"s":0.880},{"g":"Elective-censored","t":19.2,"s":0.870},{"g":"Elective-censored","t":20.2,"s":0.861},{"g":"Elective-censored","t":22,"s":0.842},{"g":"Elective-censored","t":23.5,"s":0.819},{"g":"Elective-censored","t":25.5,"s":0.811},{"g":"Elective-censored","t":26.3,"s":0.811},{"g":"Elective-censored","t":28,"s":0.807},{"g":"Elective-censored","t":29.5,"s":0.807},{"g":"Elective-censored","t":31,"s":0.807},{"g":"Elective-censored","t":32.8,"s":0.804},{"g":"Elective-censored","t":34.4,"s":0.796},{"g":"Elective-censored","t":36,"s":0.788},{"g":"Elective-censored","t":37,"s":0.788},{"g":"Elective-censored","t":38.8,"s":0.777},{"g":"Elective-censored","t":40.2,"s":0.766},{"g":"Elective-censored","t":41.5,"s":0.754},{"g":"Elective-censored","t":43,"s":0.754},{"g":"Elective-censored","t":44.5,"s":0.754},{"g":"Elective-censored","t":46,"s":0.754},{"g":"Elective-censored","t":48.3,"s":0.735},{"g":"Elective-censored","t":49.4,"s":0.724},{"g":"Elective-censored","t":51,"s":0.712},{"g":"Elective-censored","t":53,"s":0.712},{"g":"Elective-censored","t":55,"s":0.712},{"g":"Elective-censored","t":57,"s":0.712},{"g":"Elective-censored","t":59.5,"s":0.695},{"g":"Elective-censored","t":61,"s":0.695},{"g":"Elective-censored","t":62.5,"s":0.695},{"g":"Elective-censored","t":64,"s":0.695},{"g":"Elective-censored","t":66,"s":0.695},{"g":"Elective-censored","t":69,"s":0.682},{"g":"Elective-censored","t":71,"s":0.682},{"g":"Elective-censored","t":73,"s":0.672},{"g":"Elective-censored","t":74.8,"s":0.648},{"g":"Elective-censored","t":77,"s":0.632},{"g":"Elective-censored","t":78.5,"s":0.632},{"g":"Elective-censored","t":80.5,"s":0.617},{"g":"Elective-censored","t":82.5,"s":0.602},{"g":"Elective-censored","t":85,"s":0.583},{"g":"Elective-censored","t":86.5,"s":0.583},{"g":"Elective-censored","t":88,"s":0.583},{"g":"Elective-censored","t":89.5,"s":0.583},{"g":"Elective-censored","t":91.5,"s":0.583},{"g":"Elective-censored","t":94.3,"s":0.583},{"g":"Elective-censored","t":96,"s":0.583},{"g":"Elective-censored","t":97.5,"s":0.583},{"g":"Elective-censored","t":103,"s":0.583},{"g":"Elective-censored","t":105,"s":0.583},{"g":"Elective-censored","t":107,"s":0.583},{"g":"Elective-censored","t":109,"s":0.583},{"g":"Elective-censored","t":111,"s":0.583},{"g":"Elective-censored","t":113,"s":0.583},{"g":"Elective-censored","t":115,"s":0.583},{"g":"Elective-censored","t":116.5,"s":0.583},{"g":"Elective-censored","t":120,"s":0.583},{"g":"Elective-censored","t":127.5,"s":0.583},
      {"g":"Emergency-censored","t":0.3,"s":1.0},{"g":"Emergency-censored","t":2.8,"s":0.952},{"g":"Emergency-censored","t":4.6,"s":0.933},{"g":"Emergency-censored","t":7.5,"s":0.865},{"g":"Emergency-censored","t":9.5,"s":0.811},{"g":"Emergency-censored","t":16.4,"s":0.781},{"g":"Emergency-censored","t":22.6,"s":0.655},{"g":"Emergency-censored","t":30,"s":0.602},{"g":"Emergency-censored","t":33,"s":0.575},{"g":"Emergency-censored","t":34.5,"s":0.575},{"g":"Emergency-censored","t":36,"s":0.575},{"g":"Emergency-censored","t":37.8,"s":0.560},{"g":"Emergency-censored","t":39.5,"s":0.541},{"g":"Emergency-censored","t":41,"s":0.541},{"g":"Emergency-censored","t":42,"s":0.541},{"g":"Emergency-censored","t":47,"s":0.442},{"g":"Emergency-censored","t":49,"s":0.442},{"g":"Emergency-censored","t":51,"s":0.442},{"g":"Emergency-censored","t":56.5,"s":0.393},{"g":"Emergency-censored","t":58,"s":0.393},{"g":"Emergency-censored","t":60,"s":0.393},{"g":"Emergency-censored","t":64,"s":0.393},{"g":"Emergency-censored","t":69.2,"s":0.393},{"g":"Emergency-censored","t":73.4,"s":0.393},{"g":"Emergency-censored","t":75,"s":0.393},{"g":"Emergency-censored","t":76.6,"s":0.393},{"g":"Emergency-censored","t":84,"s":0.393},{"g":"Emergency-censored","t":86.8,"s":0.393},{"g":"Emergency-censored","t":95.6,"s":0.393},{"g":"Emergency-censored","t":97.5,"s":0.393},{"g":"Emergency-censored","t":99.4,"s":0.393},{"g":"Emergency-censored","t":119.8,"s":0.393},
      {"g":"Screening-censored","t":0.5,"s":1.0},{"g":"Screening-censored","t":2,"s":1.0},{"g":"Screening-censored","t":3.5,"s":1.0},{"g":"Screening-censored","t":4.7,"s":1.0},{"g":"Screening-censored","t":8.9,"s":1.0},{"g":"Screening-censored","t":16.8,"s":0.984},{"g":"Screening-censored","t":22.8,"s":0.963},{"g":"Screening-censored","t":31.6,"s":0.941},{"g":"Screening-censored","t":35,"s":0.895},{"g":"Screening-censored","t":37,"s":0.895},{"g":"Screening-censored","t":38.5,"s":0.895},{"g":"Screening-censored","t":40,"s":0.895},{"g":"Screening-censored","t":42,"s":0.867},{"g":"Screening-censored","t":45,"s":0.867},{"g":"Screening-censored","t":48,"s":0.867},{"g":"Screening-censored","t":51,"s":0.867},{"g":"Screening-censored","t":54,"s":0.820},{"g":"Screening-censored","t":56,"s":0.820},{"g":"Screening-censored","t":57.6,"s":0.820},{"g":"Screening-censored","t":61.3,"s":0.820},{"g":"Screening-censored","t":63,"s":0.820},{"g":"Screening-censored","t":64.7,"s":0.820},{"g":"Screening-censored","t":66.4,"s":0.820},{"g":"Screening-censored","t":76.6,"s":0.820},{"g":"Screening-censored","t":78.5,"s":0.820},{"g":"Screening-censored","t":81.3,"s":0.820},{"g":"Screening-censored","t":83.1,"s":0.820},{"g":"Screening-censored","t":90.5,"s":0.820},{"g":"Screening-censored","t":93.5,"s":0.820},{"g":"Screening-censored","t":97,"s":0.820},{"g":"Screening-censored","t":110.5,"s":0.820},{"g":"Screening-censored","t":114.7,"s":0.820}
    ],
    "p5t": [{"label":"p < 0.001","t":145,"s":0.027}]
  },
  "vconcat": [
    {
      "vconcat": [
        {
          "hconcat": [
            {
              "title": {"text": "Overall Survival", "dx": 96, "offset": 1},
              "width": 714, "height": 511,
              "encoding": {
                "x": {"field": "t", "type": "quantitative", "scale": {"domain": [-8.2, 158.2], "nice": false, "zero": false}, "axis": {"values": [0,20,40,60,80,100,120,140], "labelExpr": "datum.value == 0 ? '.00' : format(datum.value, '.2f')", "title": "Time (months)"}},
                "y": {"field": "s", "type": "quantitative", "scale": {"domain": [0.475, 1.029], "nice": false, "zero": false}, "axis": {"values": [0.5,0.6,0.7,0.8,0.9,1.0], "format": ".1f", "title": "Cumulative Survival", "titlePadding": 18.5}}
              },
              "layer": [
                {"data": {"name": "p1c"}, "mark": {"type": "line", "interpolate": "step-after", "strokeWidth": 2.5},
                 "encoding": {"color": {"field": "g", "type": "nominal", "scale": {"domain": ["Survival Function", "Censored"], "range": ["#000000", "#000000"]},
                   "legend": {"orient": "none", "legendX": 725, "legendY": 2, "title": null, "labelFontSize": 16, "rowPadding": 4}}}},
                {"data": {"name": "p1k"}, "mark": {"type": "point", "size": 121, "filled": false, "strokeWidth": 2.5, "opacity": 1},
                 "encoding": {
                   "color": {"field": "g", "type": "nominal", "scale": {"domain": ["Survival Function", "Censored"], "range": ["#000000", "#000000"]},
                     "legend": {"orient": "none", "legendX": 725, "legendY": 2, "title": null, "labelFontSize": 16, "rowPadding": 4}},
                   "shape": {"field": "g", "type": "nominal", "scale": {"domain": ["Survival Function", "Censored"], "range": ["M-1.75,0.55H-0.05V-0.55H1.7V0.3", "M-0.8,-0.375H0.8M-0.8,-0.225H0.8M-0.8,-0.075H0.8M-0.8,0.075H0.8M-0.8,0.225H0.8M-0.8,0.375H0.8"]},
                     "legend": {"orient": "none", "legendX": 725, "legendY": 2, "title": null, "labelFontSize": 16, "rowPadding": 4}}
                 }}
              ]
            },
            {
              "title": {"text": "Survival by Age", "dx": 95, "offset": 1},
              "width": 710, "height": 509,
              "encoding": {
                "x": {"field": "t", "type": "quantitative", "scale": {"domain": [-8.2, 158.2], "nice": false, "zero": false}, "axis": {"values": [0,20,40,60,80,100,120,140], "labelExpr": "datum.value == 0 ? '.00' : format(datum.value, '.2f')", "title": "Time (months)"}},
                "y": {"field": "s", "type": "quantitative", "scale": {"domain": [0.475, 1.031], "nice": false, "zero": false}, "axis": {"values": [0.5,0.6,0.7,0.8,0.9,1.0], "format": ".1f", "title": "Cumulative Survival", "titlePadding": 20}}
              },
              "layer": [
                {"data": {"name": "p2c"}, "mark": {"type": "line", "interpolate": "step-after", "strokeWidth": 2.8},
                 "encoding": {"color": {"field": "g", "type": "nominal", "scale": {"domain": ["<30","30-39","40-49",">49","<30-censored","30-39-censored","40-49-censored",">49-censored"], "range": ["#5596e6","#d8093c","#2b8a2b","#f5732d","#5596e6","#d8093c","#2b8a2b","#f5732d"]},
                   "legend": {"orient": "none", "legendX": 722, "legendY": 8, "title": "Age", "titlePadding": 10, "labelFontSize": 18, "rowPadding": 1.5}}}},
                {"data": {"name": "p2k"}, "mark": {"type": "point", "size": 100, "filled": false, "strokeWidth": 2.8, "opacity": 1},
                 "encoding": {
                   "color": {"field": "g", "type": "nominal", "scale": {"domain": ["<30","30-39","40-49",">49","<30-censored","30-39-censored","40-49-censored",">49-censored"], "range": ["#5596e6","#d8093c","#2b8a2b","#f5732d","#5596e6","#d8093c","#2b8a2b","#f5732d"]},
                     "legend": {"orient": "none", "legendX": 722, "legendY": 8, "title": "Age", "titlePadding": 10, "labelFontSize": 18, "rowPadding": 1.5}},
                   "shape": {"field": "g", "type": "nominal", "scale": {"domain": ["<30","30-39","40-49",">49","<30-censored","30-39-censored","40-49-censored",">49-censored"], "range": ["M-1.75,0.55H-0.05V-0.55H1.7V0.3","M-1.75,0.55H-0.05V-0.55H1.7V0.3","M-1.75,0.55H-0.05V-0.55H1.7V0.3","M-1.75,0.55H-0.05V-0.55H1.7V0.3","M-0.8,-0.375H0.8M-0.8,-0.225H0.8M-0.8,-0.075H0.8M-0.8,0.075H0.8M-0.8,0.225H0.8M-0.8,0.375H0.8","M-0.8,-0.375H0.8M-0.8,-0.225H0.8M-0.8,-0.075H0.8M-0.8,0.075H0.8M-0.8,0.225H0.8M-0.8,0.375H0.8","M-0.8,-0.375H0.8M-0.8,-0.225H0.8M-0.8,-0.075H0.8M-0.8,0.075H0.8M-0.8,0.225H0.8M-0.8,0.375H0.8","M-0.8,-0.375H0.8M-0.8,-0.225H0.8M-0.8,-0.075H0.8M-0.8,0.075H0.8M-0.8,0.225H0.8M-0.8,0.375H0.8"]},
                     "legend": {"orient": "none", "legendX": 722, "legendY": 8, "title": "Age", "titlePadding": 10, "labelFontSize": 18, "rowPadding": 1.5}}
                 }},
                {"data": {"name": "p2t"}, "mark": {"type": "text", "align": "right", "baseline": "middle", "fontSize": 20, "fontWeight": "normal", "font": "Liberation Sans", "color": "#000000"},
                 "encoding": {"text": {"field": "label"}}}
              ]
            }
          ],
          "spacing": 48,
          "resolve": {"scale": {"x": "independent", "y": "independent", "color": "independent", "shape": "independent"}, "legend": {"color": "independent", "shape": "independent"}}
        },
        {
          "hconcat": [
            {
              "title": {"text": "Survival by Numerical Stage", "dx": 106, "offset": 0},
              "width": 714, "height": 517,
              "encoding": {
                "x": {"field": "t", "type": "quantitative", "scale": {"domain": [-6.3, 126.7], "nice": false, "zero": false}, "axis": {"values": [0,20,40,60,80,100,120], "labelExpr": "datum.value == 0 ? '.00' : format(datum.value, '.2f')", "title": "Time (months)"}},
                "y": {"field": "s", "type": "quantitative", "scale": {"domain": [-0.052, 1.067], "nice": false, "zero": false}, "axis": {"values": [0,0.2,0.4,0.6,0.8,1.0], "format": ".1f", "title": "Cumulative Survival", "titlePadding": 21.5}}
              },
              "layer": [
                {"data": {"name": "p3c"}, "mark": {"type": "line", "interpolate": "step-after", "strokeWidth": 1.8},
                 "encoding": {"color": {"field": "g", "type": "nominal", "scale": {"domain": ["1","2","3","4","1-censored","2-censored","3-censored","4-censored"], "range": ["#5596e6","#d8093c","#2b8a2b","#f5732d","#5596e6","#d8093c","#2b8a2b","#f5732d"]},
                   "legend": {"orient": "none", "legendX": 734, "legendY": 14, "title": ["Numerical", "Stage"], "titleLineHeight": 21, "titlePadding": 8, "labelFontSize": 17.5, "rowPadding": 2.3, "symbolStrokeWidth": 2}}}},
                {"data": {"name": "p3k"}, "mark": {"type": "point", "size": 81, "filled": false, "strokeWidth": 1.8, "opacity": 1},
                 "encoding": {
                   "color": {"field": "g", "type": "nominal", "scale": {"domain": ["1","2","3","4","1-censored","2-censored","3-censored","4-censored"], "range": ["#5596e6","#d8093c","#2b8a2b","#f5732d","#5596e6","#d8093c","#2b8a2b","#f5732d"]},
                     "legend": {"orient": "none", "legendX": 734, "legendY": 14, "title": ["Numerical", "Stage"], "titleLineHeight": 21, "titlePadding": 8, "labelFontSize": 17.5, "rowPadding": 2.3, "symbolStrokeWidth": 2}},
                   "shape": {"field": "g", "type": "nominal", "scale": {"domain": ["1","2","3","4","1-censored","2-censored","3-censored","4-censored"], "range": ["M-1.75,0.55H-0.05V-0.55H1.7V0.3","M-1.75,0.55H-0.05V-0.55H1.7V0.3","M-1.75,0.55H-0.05V-0.55H1.7V0.3","M-1.75,0.55H-0.05V-0.55H1.7V0.3","M-0.8,-0.375H0.8M-0.8,-0.225H0.8M-0.8,-0.075H0.8M-0.8,0.075H0.8M-0.8,0.225H0.8M-0.8,0.375H0.8","M-0.8,-0.375H0.8M-0.8,-0.225H0.8M-0.8,-0.075H0.8M-0.8,0.075H0.8M-0.8,0.225H0.8M-0.8,0.375H0.8","M-0.8,-0.375H0.8M-0.8,-0.225H0.8M-0.8,-0.075H0.8M-0.8,0.075H0.8M-0.8,0.225H0.8M-0.8,0.375H0.8","M-0.8,-0.375H0.8M-0.8,-0.225H0.8M-0.8,-0.075H0.8M-0.8,0.075H0.8M-0.8,0.225H0.8M-0.8,0.375H0.8"]},
                     "legend": {"orient": "none", "legendX": 734, "legendY": 14, "title": ["Numerical", "Stage"], "titleLineHeight": 21, "titlePadding": 8, "labelFontSize": 17.5, "rowPadding": 2.3, "symbolStrokeWidth": 2}}
                 }},
                {"data": {"name": "p3t"}, "mark": {"type": "text", "align": "right", "baseline": "middle", "fontSize": 20, "fontWeight": "normal", "font": "Liberation Sans", "color": "#000000"},
                 "encoding": {"text": {"field": "label"}}}
              ]
            },
            {
              "title": {"text": "Survival by Sex", "dx": 94, "offset": 5},
              "width": 706, "height": 502,
              "encoding": {
                "x": {"field": "t", "type": "quantitative", "scale": {"domain": [-8.0, 158.6], "nice": false, "zero": false}, "axis": {"values": [0,20,40,60,80,100,120,140], "labelExpr": "datum.value == 0 ? '.00' : format(datum.value, '.2f')", "title": "Time (months)"}},
                "y": {"field": "s", "type": "quantitative", "scale": {"domain": [0.475, 1.025], "nice": false, "zero": false}, "axis": {"values": [0.5,0.6,0.7,0.8,0.9,1.0], "format": ".1f", "title": "Cumulative Survival", "titlePadding": 21}}
              },
              "layer": [
                {"data": {"name": "p4c"}, "mark": {"type": "line", "interpolate": "step-after", "strokeWidth": 2.8},
                 "encoding": {"color": {"field": "g", "type": "nominal", "scale": {"domain": ["Male","Female","Male-censored","Female-censored"], "range": ["#5596e6","#d8093c","#5596e6","#d8093c"]},
                   "legend": {"orient": "none", "legendX": 720, "legendY": 5, "title": "Sex", "titlePadding": 9, "labelFontSize": 16.5, "rowPadding": 2.8}}}},
                {"data": {"name": "p4k"}, "mark": {"type": "point", "size": 100, "filled": false, "strokeWidth": 2.8, "opacity": 1},
                 "encoding": {
                   "color": {"field": "g", "type": "nominal", "scale": {"domain": ["Male","Female","Male-censored","Female-censored"], "range": ["#5596e6","#d8093c","#5596e6","#d8093c"]},
                     "legend": {"orient": "none", "legendX": 720, "legendY": 5, "title": "Sex", "titlePadding": 9, "labelFontSize": 16.5, "rowPadding": 2.8}},
                   "shape": {"field": "g", "type": "nominal", "scale": {"domain": ["Male","Female","Male-censored","Female-censored"], "range": ["M-1.75,0.55H-0.05V-0.55H1.7V0.3","M-1.75,0.55H-0.05V-0.55H1.7V0.3","M-0.8,-0.375H0.8M-0.8,-0.225H0.8M-0.8,-0.075H0.8M-0.8,0.075H0.8M-0.8,0.225H0.8M-0.8,0.375H0.8","M-0.8,-0.375H0.8M-0.8,-0.225H0.8M-0.8,-0.075H0.8M-0.8,0.075H0.8M-0.8,0.225H0.8M-0.8,0.375H0.8"]},
                     "legend": {"orient": "none", "legendX": 720, "legendY": 5, "title": "Sex", "titlePadding": 9, "labelFontSize": 16.5, "rowPadding": 2.8}}
                 }},
                {"data": {"name": "p4t"}, "mark": {"type": "text", "align": "right", "baseline": "middle", "fontSize": 20, "fontWeight": "normal", "font": "Liberation Sans", "color": "#000000"},
                 "encoding": {"text": {"field": "label"}}}
              ]
            }
          ],
          "spacing": 78,
          "resolve": {"scale": {"x": "independent", "y": "independent", "color": "independent", "shape": "independent"}, "legend": {"color": "independent", "shape": "independent"}}
        }
      ],
      "spacing": 75,
      "resolve": {"scale": {"x": "independent", "y": "independent", "color": "independent", "shape": "independent"}, "legend": {"color": "independent", "shape": "independent"}}
    },
    {
      "title": {"text": "Survival by Presentation Type", "dx": 99, "offset": 1},
      "width": 676, "height": 487,
      "encoding": {
        "x": {"field": "t", "type": "quantitative", "scale": {"domain": [-7.6, 147.5], "nice": false, "zero": false}, "axis": {"values": [0,25,50,75,100,125], "labelExpr": "datum.value == 0 ? '.00' : format(datum.value, '.2f')", "title": "Time (months)"}},
        "y": {"field": "s", "type": "quantitative", "scale": {"domain": [-0.055, 1.057], "nice": false, "zero": false}, "axis": {"values": [0,0.2,0.4,0.6,0.8,1.0], "format": ".1f", "title": "Cumulative Survival", "titlePadding": 17}}
      },
      "layer": [
        {"data": {"name": "p5c"}, "mark": {"type": "line", "interpolate": "step-after", "strokeWidth": 2.2},
         "encoding": {"color": {"field": "g", "type": "nominal", "scale": {"domain": ["Elective","Emergency","Screening","Elective-censored","Emergency-censored","Screening-censored"], "range": ["#6f98de","#b8113c","#5b8a35","#6f98de","#b8113c","#5b8a35"]},
           "legend": {"orient": "none", "legendX": 689, "legendY": 8, "title": "Presentation", "titlePadding": 8, "labelFontSize": 16, "rowPadding": 2.8}}}},
        {"data": {"name": "p5k"}, "mark": {"type": "point", "size": 90, "filled": false, "strokeWidth": 2.2, "opacity": 1},
         "encoding": {
           "color": {"field": "g", "type": "nominal", "scale": {"domain": ["Elective","Emergency","Screening","Elective-censored","Emergency-censored","Screening-censored"], "range": ["#6f98de","#b8113c","#5b8a35","#6f98de","#b8113c","#5b8a35"]},
             "legend": {"orient": "none", "legendX": 689, "legendY": 8, "title": "Presentation", "titlePadding": 8, "labelFontSize": 16, "rowPadding": 2.8}},
           "shape": {"field": "g", "type": "nominal", "scale": {"domain": ["Elective","Emergency","Screening","Elective-censored","Emergency-censored","Screening-censored"], "range": ["M-1.75,0.55H-0.05V-0.55H1.7V0.3","M-1.75,0.55H-0.05V-0.55H1.7V0.3","M-1.75,0.55H-0.05V-0.55H1.7V0.3","M-0.8,-0.375H0.8M-0.8,-0.225H0.8M-0.8,-0.075H0.8M-0.8,0.075H0.8M-0.8,0.225H0.8M-0.8,0.375H0.8","M-0.8,-0.375H0.8M-0.8,-0.225H0.8M-0.8,-0.075H0.8M-0.8,0.075H0.8M-0.8,0.225H0.8M-0.8,0.375H0.8","M-0.8,-0.375H0.8M-0.8,-0.225H0.8M-0.8,-0.075H0.8M-0.8,0.075H0.8M-0.8,0.225H0.8M-0.8,0.375H0.8"]},
             "legend": {"orient": "none", "legendX": 689, "legendY": 8, "title": "Presentation", "titlePadding": 8, "labelFontSize": 16, "rowPadding": 2.8}}
         }},
        {"data": {"name": "p5t"}, "mark": {"type": "text", "align": "right", "baseline": "middle", "fontSize": 20, "fontWeight": "normal", "font": "Liberation Sans", "color": "#000000"},
         "encoding": {"text": {"field": "label"}}}
      ]
    }
  ],
  "spacing": 95,
  "resolve": {"scale": {"x": "independent", "y": "independent", "color": "independent", "shape": "independent"}, "legend": {"color": "independent", "shape": "independent"}},
  "config": {
    "font": "Liberation Sans",
    "view": {"stroke": null},
    "axis": {"grid": false, "ticks": false, "domainColor": "#8a8a8a", "domainWidth": 1.5, "labelFont": "Liberation Sans", "labelFontWeight": "bold", "labelFontSize": 15, "labelColor": "#000000", "titleFont": "Liberation Sans", "titleFontWeight": "bold", "titleFontSize": 20, "titleColor": "#000000"},
    "axisX": {"labelPadding": 8, "titlePadding": 14, "titleFontSize": 21},
    "axisY": {"labelPadding": 3, "titlePadding": 12},
    "title": {"font": "Liberation Sans", "fontSize": 20, "fontWeight": "bold", "color": "#000000", "anchor": "middle", "frame": "group"},
    "legend": {"labelFont": "Liberation Sans", "titleFont": "Liberation Sans", "labelFontWeight": "bold", "titleFontWeight": "bold", "titleFontSize": 20, "labelColor": "#000000", "titleColor": "#000000", "symbolSize": 256, "symbolStrokeWidth": 2.5, "labelOffset": 6, "labelLimit": 400, "titleAnchor": "middle", "titleAlign": "center"}
  }
}
